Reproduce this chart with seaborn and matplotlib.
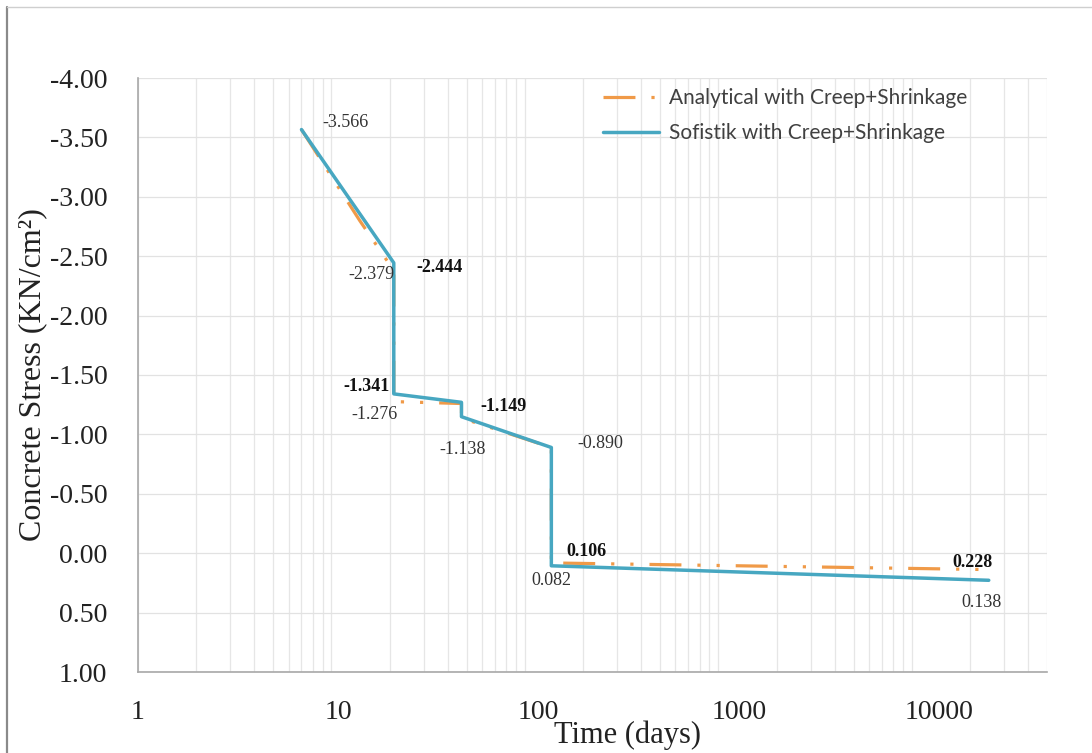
import matplotlib
matplotlib.use("Agg")
import matplotlib.pyplot as plt
import seaborn as sns
import pandas as pd
from matplotlib.lines import Line2D
from matplotlib.transforms import ScaledTranslation
from matplotlib.ticker import FixedLocator, FixedFormatter, LogLocator, NullFormatter

# ---------------- data ----------------
series_names = ["Analytical with Creep+Shrinkage", "Sofistik with Creep+Shrinkage"]

analytical_days = [7, 14, 21, 21, 47, 47, 137, 137, 25000]
analytical_stress = [-3.566, -2.80, -2.379, -1.276, -1.26, -1.138, -0.890, 0.082, 0.138]

sofistik_days = [7, 21, 21, 47, 47, 137, 137, 25000]
sofistik_stress = [-3.566, -2.444, -1.341, -1.27, -1.149, -0.890, 0.106, 0.228]

# which points carry a value label
analytical_label_idx = [0, 2, 3, 5, 6, 7, 8]
sofistik_label_idx = [1, 2, 4, 6, 7]

x_ticks = [1, 10, 100, 1000, 10000]
x_tick_labels = ["1", "10", "100", "1000", "10000"]
y_ticks = [-4.0, -3.5, -3.0, -2.5, -2.0, -1.5, -1.0, -0.5, 0.0, 0.5, 1.0]
y_tick_labels = ["-4.00", "-3.50", "-3.00", "-2.50", "-2.00", "-1.50",
                 "-1.00", "-0.50", "0.00", "0.50", "1.00"]

x_label = "Time (days)"
y_label = "Concrete Stress (KN/cm²)"

# ---------------- style ----------------
sns.set_theme(style="white")
plt.rcParams["axes.unicode_minus"] = False
plt.rcParams["font.family"] = ["Liberation Serif", "DejaVu Serif"]

ORANGE = "#F09A48"
BLUE = "#47A7C1"

fig = plt.figure(figsize=(10.92, 7.53), dpi=100)
fig.patch.set_facecolor("white")
ax = fig.add_axes([138 / 1092, 1 - 672 / 753, (1047 - 138) / 1092, (672 - 78) / 753])
ax.set_facecolor("white")

df_a = pd.DataFrame({"days": analytical_days, "stress": analytical_stress})
df_s = pd.DataFrame({"days": sofistik_days, "stress": sofistik_stress})

sns.lineplot(data=df_a, x="days", y="stress", estimator=None, sort=False,
             color=ORANGE, linewidth=2.3, label=series_names[0], ax=ax, zorder=3)
ax.lines[-1].set_dashes([10, 5, 1, 5, 1, 5])
sns.lineplot(data=df_s, x="days", y="stress", estimator=None, sort=False,
             color=BLUE, linewidth=2.5, label=series_names[1], ax=ax, zorder=4)

ax.set_xscale("log")
ax.set_xlim(1, 50000)
ax.set_ylim(1.0, -4.0)

ax.xaxis.set_major_locator(FixedLocator(x_ticks))
ax.xaxis.set_major_formatter(FixedFormatter(x_tick_labels))
ax.xaxis.set_minor_locator(LogLocator(base=10, subs=[2, 3, 4, 5, 6, 7, 8, 9], numticks=20))
ax.xaxis.set_minor_formatter(NullFormatter())
ax.yaxis.set_major_locator(FixedLocator(y_ticks))
ax.yaxis.set_major_formatter(FixedFormatter(y_tick_labels))

ax.grid(True, which="major", axis="y", color="#e2e2e2", linewidth=0.9)
ax.grid(True, which="both", axis="x", color="#e6e6e6", linewidth=0.9)
ax.set_axisbelow(True)

ax.tick_params(axis="both", which="both", length=0)
ax.tick_params(axis="y", labelsize=20, pad=22, labelcolor="#222222")
ax.tick_params(axis="x", labelsize=20, pad=20, labelcolor="#222222")

# x tick labels sit to the right of their ticks, as in the reference
shift = ScaledTranslation(-7 / 100, 0, fig.dpi_scale_trans)
for lbl in ax.get_xticklabels():
    lbl.set_horizontalalignment("left")
    lbl.set_transform(lbl.get_transform() + shift)

for side in ["top", "right"]:
    ax.spines[side].set_visible(False)
for side in ["left", "bottom"]:
    ax.spines[side].set_color("#a8a8a8")
    ax.spines[side].set_linewidth(1.2)

ax.set_xlabel(x_label, fontsize=22, color="#222222")
ax.set_ylabel(y_label, fontsize=23, color="#222222")
ax.xaxis.label.set_va("center")
ax.xaxis.set_label_coords(0.539, -0.106)
ax.yaxis.label.set_va("center")
ax.yaxis.set_label_coords(-0.1155, 0.5)

# value labels (offsets in points)
analytical_offsets = [(32, 5), (-16, -2.5), (-14, -9), (1, -23), (35, 3), (0, -13), (-5, -24)]
sofistik_offsets = [(33, -3), (-20, 5), (30, 7.6), (25, 10.5), (-12, 13)]

for i, off in zip(analytical_label_idx, analytical_offsets):
    ax.annotate(f"{analytical_stress[i]:.3f}", xy=(analytical_days[i], analytical_stress[i]),
                xytext=off, textcoords="offset points", ha="center", va="center",
                fontsize=13, color="#333333", zorder=6)
for i, off in zip(sofistik_label_idx, sofistik_offsets):
    ax.annotate(f"{sofistik_stress[i]:.3f}", xy=(sofistik_days[i], sofistik_stress[i]),
                xytext=off, textcoords="offset points", ha="center", va="center",
                fontsize=13, color="#111111", fontweight="bold", zorder=6)

leg = ax.legend(loc="upper left", bbox_to_anchor=((603 - 138) / 909, (672 - 88) / 594),
                frameon=False, borderpad=0, borderaxespad=0, handlelength=2.7,
                handletextpad=0.45, labelspacing=0.72,
                prop={"family": "Lato", "size": 15})
for t in leg.get_texts():
    t.set_color("#404040")

# outer frame remnants (left and top edges)
fig.add_artist(Line2D([7 / 1092, 7 / 1092], [0, 1 - 7 / 753], transform=fig.transFigure,
                      color="#8a8a8a", linewidth=1.6))
fig.add_artist(Line2D([7 / 1092, 1], [1 - 7 / 753, 1 - 7 / 753], transform=fig.transFigure,
                      color="#cfcfcf", linewidth=1.0))

fig.savefig("out.png", dpi=100, facecolor="white")
